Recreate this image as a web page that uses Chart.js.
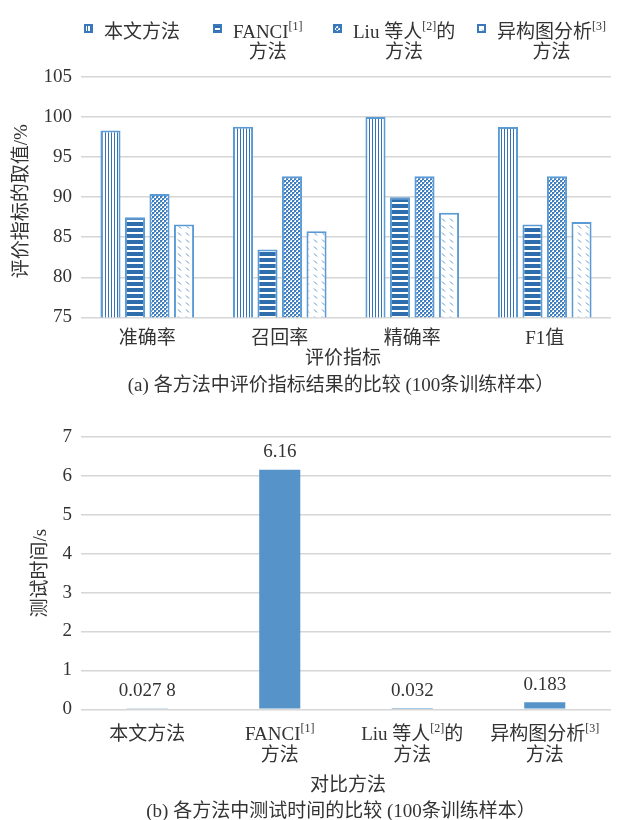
<!DOCTYPE html>
<html>
<head>
<meta charset="utf-8">
<script src="https://cdn.jsdelivr.net/npm/chart.js@4.4.1/dist/chart.umd.min.js"></script>
<style>
  html, body { margin: 0; padding: 0; background: #ffffff; }
  .box { position: relative; width: 618px; height: 410px; }
  canvas { display: block; }
</style>
</head>
<body>
<div class="box"><canvas id="scores" width="618" height="410"></canvas></div>
<div class="box"><canvas id="timing" width="618" height="410"></canvas></div>
<script>
// ---- (a) evaluation metrics, 100 training samples ----
const metricLabels = ['准确率', '召回率', '精确率', 'F1值'];
const oursScores     = [98.33, 98.8, 100, 98.75];
const fanciScores    = [87.5, 83.46, 90, 86.6];
const liuScores      = [90.4, 92.6, 92.6, 92.6];
const hetGraphScores = [86.6, 85.75, 88.04, 86.9];
const scoreTicks = [75, 80, 85, 90, 95, 100, 105];

// ---- (b) test time, 100 training samples ----
const testTimes = [0.0278, 6.16, 0.032, 0.183];
const timeTicks = [0, 1, 2, 3, 4, 5, 6, 7];

// method names as rich-text lines (sup = superscript reference mark)
const methodNames = [
  [[{ t: '本文方法' }]],
  [[{ t: 'FANCI' }, { t: '[1]', sup: true }], [{ t: '方法' }]],
  [[{ t: 'Liu 等人' }, { t: '[2]', sup: true }, { t: '的' }], [{ t: '方法' }]],
  [[{ t: '异构图分析' }, { t: '[3]', sup: true }], [{ t: '方法' }]]
];

const FAMILY = "'Liberation Serif', 'Noto Sans CJK SC', serif";
const BASE = '19px ' + FAMILY;
const SUP = '12px ' + FAMILY;
const INK = '#333333';
const GRID = '#d6d6d6';
const EDGE = '#5B9BD5';

Chart.defaults.font.family = FAMILY;
Chart.defaults.font.size = 19;
Chart.defaults.color = INK;

// ---- fill patterns ----
function makePattern(kind) {
  const c = document.createElement('canvas');
  const g = c.getContext('2d');
  if (kind === 'vertical') {
    c.width = 3; c.height = 3;
    g.fillStyle = '#ffffff'; g.fillRect(0, 0, 3, 3);
    g.fillStyle = '#3573B6'; g.fillRect(0, 0, 1, 3);
  } else if (kind === 'horizontal') {
    c.width = 6; c.height = 6;
    g.fillStyle = '#2F6EAD'; g.fillRect(0, 0, 6, 6);
    g.fillStyle = '#ffffff'; g.fillRect(0, 4, 6, 2);
  } else if (kind === 'dots') {
    c.width = 4; c.height = 4;
    g.fillStyle = '#ffffff'; g.fillRect(0, 0, 4, 4);
    g.fillStyle = '#3F7EC1';
    g.fillRect(0, 0, 2, 2); g.fillRect(2, 2, 2, 2);
    g.fillStyle = '#8DB4DE';
    g.fillRect(2, 0, 1, 1); g.fillRect(0, 2, 1, 1);
  } else {
    c.width = 8; c.height = 7;
    g.fillStyle = '#ffffff'; g.fillRect(0, 0, 8, 7);
    g.strokeStyle = '#5B8FC8'; g.lineWidth = 1;
    g.beginPath(); g.moveTo(2, 1.5); g.lineTo(5, 4.5); g.stroke();
  }
  return c.getContext('2d').createPattern(c, 'repeat');
}
const patterns = ['vertical', 'horizontal', 'dots', 'diagonal'].map(makePattern);

// ---- rich text helpers ----
function segWidth(ctx, segs) {
  let w = 0;
  for (const s of segs) { ctx.font = s.sup ? SUP : BASE; w += ctx.measureText(s.t).width; }
  return w;
}
function drawRich(ctx, segs, x, y, align) {
  const w = segWidth(ctx, segs);
  let cx = align === 'center' ? x - w / 2 : x;
  ctx.textAlign = 'left';
  ctx.textBaseline = 'middle';
  ctx.fillStyle = INK;
  for (const s of segs) {
    ctx.font = s.sup ? SUP : BASE;
    ctx.fillText(s.t, cx, s.sup ? y - 6 : y);
    cx += ctx.measureText(s.t).width;
  }
  return w;
}
function drawRotated(ctx, text, x, y) {
  ctx.save();
  ctx.translate(x, y);
  ctx.rotate(-Math.PI / 2);
  ctx.font = BASE; ctx.fillStyle = INK;
  ctx.textAlign = 'center'; ctx.textBaseline = 'middle';
  ctx.fillText(text, 0, 0);
  ctx.restore();
}
function drawCentered(ctx, text, x, y) {
  ctx.font = BASE; ctx.fillStyle = INK;
  ctx.textAlign = 'center'; ctx.textBaseline = 'middle';
  ctx.fillText(text, x, y);
}
// decimals grouped by three digits, e.g. 0.027 8
function formatValue(v) {
  const [i, d] = String(v).split('.');
  if (!d) return i;
  return i + '.' + d.replace(/(\d{3})(?=\d)/g, '$1 ');
}

// ---- chart (a) ----
const scoreDecor = {
  id: 'scoreDecor',
  afterDraw(chart) {
    const ctx = chart.ctx;
    const a = chart.chartArea;
    const mid = (a.left + a.right) / 2;
    // legend
    const textX = [104, 233, 353, 497];
    chart.data.datasets.forEach((ds, i) => {
      const lines = methodNames[i];
      const ix = textX[i] - 20;
      ctx.fillStyle = patterns[i];
      ctx.fillRect(ix, 24, 9, 9);
      ctx.strokeStyle = '#3A78BC'; ctx.lineWidth = 2;
      ctx.strokeRect(ix + 1, 25, 7, 7);
      const w = drawRich(ctx, lines[0], textX[i], 33, 'left');
      if (lines[1]) drawRich(ctx, lines[1], textX[i] + w / 2, 53, 'center');
    });
    drawRotated(ctx, '评价指标的取值/%', 22, (a.top + a.bottom) / 2 + 4);
    drawCentered(ctx, '评价指标', mid - 3, a.bottom + 42);
    drawCentered(ctx, '(a) 各方法中评价指标结果的比较 (100条训练样本）', mid - 5, a.bottom + 69);
  }
};

new Chart(document.getElementById('scores'), {
  type: 'bar',
  data: {
    labels: metricLabels,
    datasets: [
      { label: '本文方法', data: oursScores },
      { label: 'FANCI方法', data: fanciScores },
      { label: 'Liu 等人的方法', data: liuScores },
      { label: '异构图分析方法', data: hetGraphScores }
    ].map((d, i) => Object.assign(d, {
      backgroundColor: patterns[i],
      borderColor: EDGE,
      borderWidth: 2,
      categoryPercentage: 0.74,
      barPercentage: 0.82
    }))
  },
  options: {
    responsive: false,
    animation: false,
    layout: { padding: { top: 77, right: 7, bottom: 0, left: 0 } },
    plugins: { legend: { display: false }, tooltip: { enabled: false } },
    scales: {
      x: {
        grid: { display: false },
        border: { display: false },
        ticks: { padding: 2, font: { size: 19 }, color: INK },
        afterFit(s) { s.height = 92.7; }
      },
      y: {
        min: 75, max: 105,
        afterBuildTicks(s) { s.ticks = scoreTicks.map(v => ({ value: v })); },
        ticks: { padding: 9, font: { size: 19 }, color: INK },
        grid: { color: GRID, lineWidth: 1.5, drawTicks: false },
        border: { display: false },
        afterFit(s) { s.width = 81; }
      }
    }
  },
  plugins: [scoreDecor]
});

// ---- chart (b) ----
const timeDecor = {
  id: 'timeDecor',
  afterDraw(chart) {
    const ctx = chart.ctx;
    const a = chart.chartArea;
    const mid = (a.left + a.right) / 2;
    const xs = chart.scales.x;
    methodNames.forEach((lines, i) => {
      const cx = xs.getPixelForValue(i);
      drawRich(ctx, lines[0], cx, a.bottom + 26, 'center');
      if (lines[1]) drawRich(ctx, lines[1], cx, a.bottom + 47, 'center');
    });
    const meta = chart.getDatasetMeta(0);
    meta.data.forEach((bar, i) => {
      drawCentered(ctx, formatValue(testTimes[i]), bar.x, bar.y - 17.5);
    });
    drawRotated(ctx, '测试时间/s', 41, (a.top + a.bottom) / 2);
    drawCentered(ctx, '对比方法', mid + 2, a.bottom + 77);
    drawCentered(ctx, '(b) 各方法中测试时间的比较 (100条训练样本）', mid - 5, a.bottom + 103);
  }
};

new Chart(document.getElementById('timing'), {
  type: 'bar',
  data: {
    labels: methodNames.map(l => l.map(seg => seg.map(s => s.t).join('')).join('')),
    datasets: [{
      label: '测试时间',
      data: testTimes,
      backgroundColor: '#5593C9',
      borderWidth: 0,
      categoryPercentage: 0.31,
      barPercentage: 1
    }]
  },
  options: {
    responsive: false,
    animation: false,
    layout: { padding: { top: 27, right: 7, bottom: 0, left: 0 } },
    plugins: { legend: { display: false }, tooltip: { enabled: false } },
    scales: {
      x: {
        grid: { display: false },
        border: { display: false },
        ticks: { display: false },
        afterFit(s) { s.height = 110.7; }
      },
      y: {
        min: 0, max: 7,
        afterBuildTicks(s) { s.ticks = timeTicks.map(v => ({ value: v })); },
        ticks: { padding: 9, font: { size: 19 }, color: INK },
        grid: { color: GRID, lineWidth: 1.5, drawTicks: false },
        border: { display: false },
        afterFit(s) { s.width = 81; }
      }
    }
  },
  plugins: [timeDecor]
});
</script>
</body>
</html>
